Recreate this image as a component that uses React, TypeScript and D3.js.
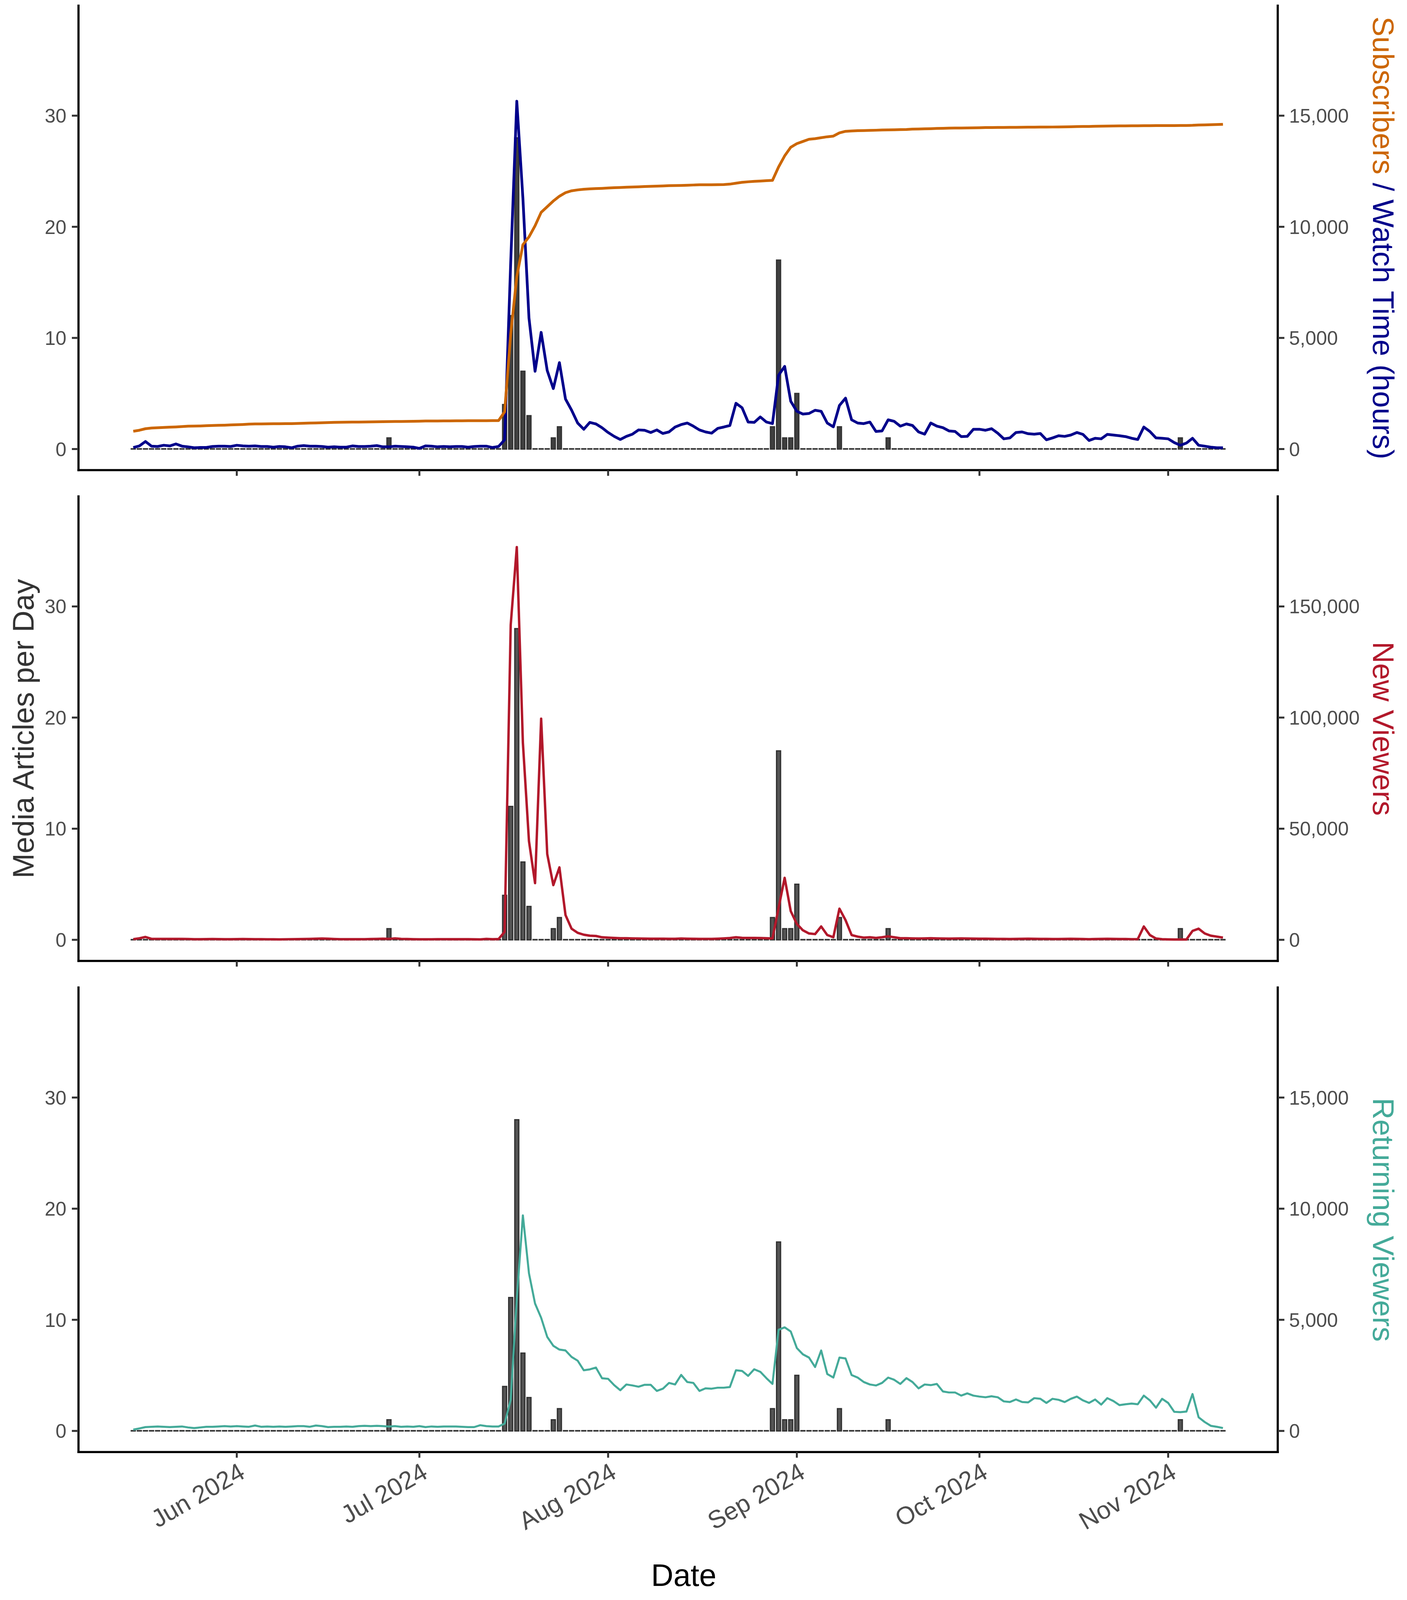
import React from "react";
import * as d3 from "d3";

// ---------- DATA (daily, 15 May 2024 – 10 Nov 2024) ----------
const startDate = "2024-05-15";
const nDays = 180;

// media articles per day (bars); days not listed are zero
const articleDays = [42, 61, 62, 63, 64, 65, 69, 70, 105, 106, 107, 108, 109, 116, 124, 172];
const articleCounts = [1, 4, 12, 28, 7, 3, 1, 2, 2, 17, 1, 1, 5, 2, 1, 1];

const subscribers = [
  800, 845, 915, 945, 960, 970, 985, 995, 1010, 1030,
  1035, 1040, 1050, 1060, 1070, 1075, 1085, 1095, 1105, 1120,
  1130, 1132, 1135, 1138, 1140, 1143, 1145, 1152, 1160, 1168,
  1175, 1185, 1192, 1200, 1205, 1208, 1212, 1215, 1218, 1222,
  1226, 1230, 1234, 1238, 1242, 1246, 1250, 1255, 1260, 1262,
  1264, 1266, 1268, 1270, 1272, 1275, 1275, 1276, 1277, 1278,
  1280, 1675, 5180, 7760, 9190, 9545, 10045, 10650, 10905, 11160,
  11375, 11535, 11620, 11660, 11690, 11705, 11720, 11730, 11745, 11760,
  11770, 11780, 11790, 11800, 11810, 11820, 11830, 11840, 11850, 11855,
  11860, 11870, 11880, 11890, 11890, 11890, 11895, 11900, 11920, 11960,
  12000, 12025, 12045, 12060, 12075, 12090, 12690, 13190, 13580, 13740,
  13840, 13940, 13965, 14010, 14050, 14080, 14225, 14295, 14310, 14325,
  14330, 14340, 14345, 14355, 14360, 14365, 14372, 14380, 14395, 14400,
  14410, 14415, 14425, 14430, 14440, 14443, 14446, 14450, 14453, 14456,
  14465, 14467, 14469, 14471, 14473, 14475, 14480, 14482, 14484, 14486,
  14488, 14490, 14492, 14495, 14500, 14510, 14513, 14516, 14525, 14528,
  14531, 14535, 14540, 14542, 14544, 14546, 14550, 14551, 14552, 14553,
  14554, 14555, 14556, 14558, 14565, 14580, 14585, 14595, 14600, 14610,
];

const watchHours = [
  70, 140, 340, 130, 115, 170, 140, 230, 130, 100,
  57, 70, 70, 115, 130, 130, 115, 170, 140, 130,
  140, 115, 115, 85, 115, 100, 57, 130, 155, 130,
  130, 115, 85, 100, 85, 85, 140, 115, 115, 130,
  155, 100, 100, 130, 115, 100, 85, 30, 140, 130,
  100, 115, 100, 115, 115, 85, 115, 130, 130, 70,
  115, 415, 8400, 15650, 11300, 5900, 3500, 5250, 3530, 2720,
  3890, 2250, 1750, 1170, 890, 1200, 1130, 960, 745, 570,
  430, 570, 670, 860, 845, 745, 860, 700, 770, 990,
  1100, 1170, 1030, 860, 770, 715, 930, 990, 1060, 2060,
  1860, 1215, 1200, 1445, 1215, 1145, 3320, 3720, 2150, 1700,
  1575, 1600, 1745, 1700, 1170, 1000, 1960, 2290, 1315, 1170,
  1145, 1215, 790, 815, 1315, 1245, 1030, 1130, 1060, 770,
  670, 1170, 1030, 960, 815, 790, 560, 570, 890, 890,
  845, 915, 715, 460, 500, 745, 770, 690, 670, 700,
  415, 500, 600, 570, 630, 745, 660, 385, 485, 460,
  660, 630, 600, 560, 485, 430, 990, 790, 500, 485,
  460, 290, 170, 270, 485, 170, 130, 85, 57, 57,
];

const newViewers = [
  286, 700, 1288, 429, 429, 429, 400, 429, 400, 380,
  286, 286, 330, 350, 320, 286, 286, 320, 350, 330,
  300, 286, 250, 220, 200, 250, 300, 330, 380, 429,
  500, 572, 500, 380, 300, 286, 286, 286, 300, 350,
  429, 500, 429, 650, 429, 350, 286, 250, 220, 250,
  286, 300, 286, 286, 286, 260, 220, 200, 400, 286,
  330, 3580, 141700, 176700, 88700, 44400, 25500, 99500, 38600, 24600,
  32600, 11160, 5000, 3150, 2290, 1860, 1720, 1145, 1000, 860,
  715, 700, 650, 600, 550, 500, 500, 500, 450, 450,
  600, 500, 450, 400, 430, 400, 500, 650, 800, 1145,
  900, 850, 850, 800, 700, 600, 14300, 27900, 12900, 7150,
  4290, 2860, 2575, 6010, 2150, 1145, 14020, 8870, 2150, 1430,
  1000, 1145, 860, 1145, 1570, 1145, 715, 700, 650, 600,
  650, 700, 650, 600, 550, 600, 650, 600, 550, 500,
  500, 450, 400, 400, 350, 400, 450, 500, 450, 400,
  400, 350, 350, 400, 450, 400, 350, 300, 350, 400,
  450, 400, 350, 350, 300, 300, 6000, 2150, 570, 290,
  200, 150, 140, 140, 4000, 5000, 2860, 1860, 1430, 1000,
];

const returningViewers = [
  57, 114, 172, 186, 200, 186, 172, 186, 200, 157,
  129, 157, 186, 186, 200, 215, 200, 215, 200, 186,
  243, 186, 200, 186, 200, 186, 200, 215, 215, 186,
  243, 215, 172, 186, 186, 200, 186, 215, 229, 215,
  229, 215, 200, 215, 186, 200, 186, 215, 172, 200,
  186, 200, 200, 200, 186, 172, 172, 257, 215, 200,
  200, 329, 1400, 5950, 9700, 7090, 5730, 5090, 4230, 3830,
  3660, 3620, 3330, 3160, 2730, 2770, 2850, 2370, 2345, 2060,
  1830, 2090, 2045, 1990, 2075, 2075, 1800, 1900, 2160, 2090,
  2520, 2200, 2160, 1800, 1915, 1900, 1945, 1945, 1975, 2730,
  2700, 2475, 2775, 2660, 2375, 2115, 4550, 4660, 4475, 3730,
  3445, 3300, 2875, 3620, 2560, 2400, 3300, 3260, 2515, 2400,
  2200, 2090, 2045, 2160, 2400, 2300, 2115, 2375, 2200, 1915,
  2090, 2060, 2115, 1775, 1730, 1730, 1590, 1690, 1590, 1545,
  1515, 1560, 1515, 1330, 1300, 1415, 1300, 1285, 1475, 1445,
  1260, 1445, 1400, 1300, 1445, 1545, 1375, 1260, 1415, 1185,
  1475, 1345, 1160, 1200, 1230, 1200, 1590, 1375, 1045, 1445,
  1260, 860, 845, 870, 1660, 615, 400, 230, 185, 130,
];

const leftTicks = [0, 10, 20, 30];
const panelScales = [500, 5000, 500]; // secondary axis = primary * factor

// ---------- STYLE ----------
const W = 3603;
const H = 4812;
const FONT = "'Liberation Sans', Arial, Helvetica, sans-serif";
const PLOT_L = 201;
const PLOT_R = 3272;
const PANEL_TOPS = [17, 1493, 2970];
const PANEL_H = 1397;
const TICK = 17;
const C_ORANGE = "#CC6600";
const C_NAVY = "#00008B";
const C_RED = "#B2182B";
const C_TEAL = "#44AA99";
const C_TXT = "#4D4D4D";

export default function App() {
  // the photographed viewport may be shorter than the design height: fit vertically
  const vh = typeof window !== "undefined" && window.innerHeight > 0 ? window.innerHeight : H;
  const sy = Math.min(1, vh / H);
  const Y = (v: number) => v * sy;
  const vFont = 90 * sy; // vertical titles run along y
  const hScale = Math.max(sy, 0.9);

  const t0 = d3.utcParse("%Y-%m-%d")(startDate) as Date;
  const dates = d3.range(nDays).map((i) => d3.utcDay.offset(t0, i));
  const articles = dates.map((_, i) => {
    const k = articleDays.indexOf(i);
    return k >= 0 ? articleCounts[k] : 0;
  });

  const x = d3
    .scaleUtc()
    .domain([d3.utcDay.offset(dates[0], -9), d3.utcDay.offset(dates[nDays - 1], 9)])
    .range([PLOT_L, PLOT_R]);
  const xTicks = x.ticks(d3.utcMonth.every(1) as any);
  const fmtMonth = d3.utcFormat("%b %Y");
  const fmtNum = d3.format(",");
  const dayW = x(d3.utcDay.offset(t0, 1)) - x(t0);
  const barW = dayW * 0.65;

  const panels = PANEL_TOPS.map((top, p) => {
    const t = Y(top);
    const b = Y(top + PANEL_H);
    const y = d3.scaleLinear().domain([-1.9, 39.9]).range([b, t]);
    return { top: t, y, bottom: b, factor: panelScales[p] };
  });

  const mkLine = (y: d3.ScaleLinear<number, number>, vals: number[], factor: number) =>
    d3
      .line<number>()
      .x((_, i) => x(dates[i]))
      .y((v) => y(v / factor))(vals) as string;

  const bars = (y: d3.ScaleLinear<number, number>, fill: string) =>
    articles.map((a, i) => {
      const y0 = y(0);
      const y1 = y(a);
      const h = Math.max(y0 - y1, 0.6);
      return (
        <rect
          key={i}
          x={x(dates[i]) - barW / 2}
          y={y0 - h}
          width={barW}
          height={h}
          fill={fill}
          stroke="#333333"
          strokeWidth={3.4}
        />
      );
    });

  const axes = (pn: typeof panels[number], showX: boolean) => (
    <g>
      <line x1={PLOT_L} x2={PLOT_L} y1={pn.top} y2={pn.bottom} stroke="#000" strokeWidth={5.5} strokeLinecap="square" />
      <line x1={PLOT_R} x2={PLOT_R} y1={pn.top} y2={pn.bottom} stroke="#000" strokeWidth={5.5} strokeLinecap="square" />
      <line x1={PLOT_L} x2={PLOT_R} y1={pn.bottom} y2={pn.bottom} stroke="#000" strokeWidth={5.5} strokeLinecap="square" />
      {leftTicks.map((t) => (
        <g key={t}>
          <line x1={PLOT_L - TICK} x2={PLOT_L} y1={pn.y(t)} y2={pn.y(t)} stroke="#333" strokeWidth={5} />
          <text x={PLOT_L - 31} y={pn.y(t)} dy="0.36em" textAnchor="end" fontSize={50} fill={C_TXT} fontFamily={FONT}>
            {t}
          </text>
          <line x1={PLOT_R} x2={PLOT_R + TICK} y1={pn.y(t)} y2={pn.y(t)} stroke="#333" strokeWidth={5} />
          <text x={PLOT_R + 29} y={pn.y(t)} dy="0.36em" textAnchor="start" fontSize={50} fill={C_TXT} fontFamily={FONT}>
            {fmtNum(t * pn.factor)}
          </text>
        </g>
      ))}
      {xTicks.map((d, i) => (
        <g key={i}>
          <line x1={x(d)} x2={x(d)} y1={pn.bottom} y2={pn.bottom + Y(TICK)} stroke="#333" strokeWidth={5} />
          {showX && (
            <text
              transform={`translate(${x(d) + 2},${pn.bottom + Y(28)}) rotate(-30)`}
              dy="0.72em"
              textAnchor="end"
              fontSize={71 * hScale}
              fill={C_TXT}
              fontFamily={FONT}
            >
              {fmtMonth(d)}
            </text>
          )}
        </g>
      ))}
    </g>
  );

  const [p1, p2, p3] = panels;
  const rightTitleX = 3516;
  const mid = (pn: typeof panels[number]) => (pn.top + pn.bottom) / 2;

  return (
    <svg
      width={W}
      height={Y(H)}
      viewBox={`0 0 ${W} ${Y(H)}`}
      style={{ position: "absolute", left: 0, top: 0, display: "block", background: "#fff" }}
      xmlns="http://www.w3.org/2000/svg"
    >
      <rect x={0} y={0} width={W} height={Y(H)} fill="#fff" />

      {/* Panel 1: subscribers / watch time */}
      <g>{bars(p1.y, "#404040")}</g>
      <path d={mkLine(p1.y, watchHours, p1.factor)} fill="none" stroke={C_NAVY} strokeWidth={7} strokeLinejoin="round" />
      <path d={mkLine(p1.y, subscribers, p1.factor)} fill="none" stroke={C_ORANGE} strokeWidth={7} strokeLinejoin="round" />
      {axes(p1, false)}

      {/* Panel 2: new viewers */}
      <g>{bars(p2.y, "#555555")}</g>
      <path d={mkLine(p2.y, newViewers, p2.factor)} fill="none" stroke={C_RED} strokeWidth={6.2} strokeLinejoin="round" />
      {axes(p2, false)}

      {/* Panel 3: returning viewers */}
      <g>{bars(p3.y, "#555555")}</g>
      <path d={mkLine(p3.y, returningViewers, p3.factor)} fill="none" stroke={C_TEAL} strokeWidth={5.2} strokeLinejoin="round" />
      {axes(p3, true)}

      {/* Titles */}
      <text transform={`translate(86,${mid(p2)}) rotate(-90)`} textAnchor="middle" fontSize={vFont} fill="#333333" fontFamily={FONT}>
        Media Articles per Day
      </text>
      <text x={1751} y={Y(4770)} textAnchor="middle" fontSize={88 * hScale} fill="#000" fontFamily={FONT}>
        Date
      </text>
      <text transform={`translate(${rightTitleX},${mid(p1)}) rotate(90)`} textAnchor="middle" fontSize={vFont} fontFamily={FONT}>
        <tspan fill={C_ORANGE}>Subscribers</tspan>
        <tspan fill={C_NAVY}> / Watch Time (hours)</tspan>
      </text>
      <text transform={`translate(${rightTitleX},${mid(p2)}) rotate(90)`} textAnchor="middle" fontSize={vFont} fill={C_RED} fontFamily={FONT}>
        New Viewers
      </text>
      <text transform={`translate(${rightTitleX},${mid(p3)}) rotate(90)`} textAnchor="middle" fontSize={vFont} fill={C_TEAL} fontFamily={FONT}>
        Returning Viewers
      </text>
    </svg>
  );
}
